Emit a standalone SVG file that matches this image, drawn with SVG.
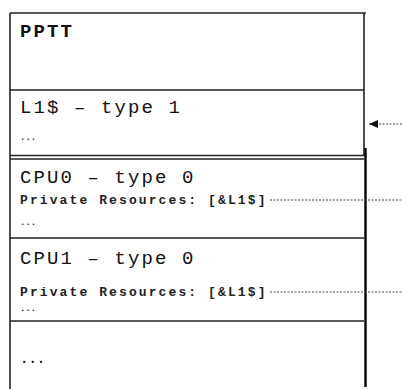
<svg xmlns="http://www.w3.org/2000/svg" width="402" height="389" viewBox="0 0 402 389">
<style>
.frame{stroke:#222;stroke-width:1.6;fill:none}
.title{font-family:"Liberation Mono",monospace;font-size:19px;letter-spacing:2.1px;fill:#111}
.bold{font-weight:bold}
.res{font-family:"Liberation Mono",monospace;font-size:13px;font-weight:bold;letter-spacing:2.1px;fill:#222}
.dots{font-family:"Liberation Mono",monospace;font-size:9px;font-weight:bold;fill:#222}
.bigdots{font-family:"Liberation Mono",monospace;font-size:14px;font-weight:bold;fill:#222}
.dotted{stroke:#444;stroke-width:1;stroke-dasharray:2 1.5;fill:none}
</style>
<defs>
<marker id="ah" markerUnits="userSpaceOnUse" markerWidth="9" markerHeight="8" refX="9" refY="4" orient="auto">
<path d="M0,0 L9,4 L0,8 z" fill="#111"/>
</marker>
</defs>
<rect width="402" height="389" fill="#fff"/>
<g id="frame">
<line class="frame" x1="10" y1="13" x2="366" y2="13" stroke="#333"/>
<line class="frame" x1="10" y1="13" x2="10" y2="389"/>
<line class="frame" x1="364" y1="13" x2="364" y2="156"/>
<line x1="365.5" y1="148" x2="365.5" y2="387" stroke="#000" stroke-width="2.4"/>
</g>
<g id="pptt">
<text class="title bold" x="20" y="37">PPTT</text>
<line class="frame" x1="10" y1="90" x2="364" y2="90"/>
</g>
<g id="l1">
<text class="title" x="20" y="113">L1$ – type 1</text>
<text class="dots" x="20" y="140">...</text>
<line class="frame" x1="10" y1="155.5" x2="364" y2="155.5"/>
</g>
<g id="cpu0">
<line class="frame" x1="10" y1="159" x2="364" y2="159"/>
<text class="title" x="20" y="183">CPU0 – type 0</text>
<text class="res" x="20" y="204">Private Resources: [&amp;L1$]</text>
<text class="dots" x="20" y="225">...</text>
<line class="frame" x1="10" y1="238" x2="364" y2="238"/>
</g>
<g id="cpu1">
<text class="title" x="20" y="264">CPU1 – type 0</text>
<text class="res" x="20" y="296">Private Resources: [&amp;L1$]</text>
<text class="dots" x="20" y="311">...</text>
<line class="frame" x1="10" y1="321" x2="364" y2="321"/>
</g>
<g id="more">
<text class="bigdots" x="20" y="363">...</text>
</g>
<g id="connectors">
<line class="dotted" x1="402" y1="124" x2="369" y2="124" marker-end="url(#ah)"/>
<line class="dotted" x1="270" y1="200" x2="402" y2="200"/>
<line class="dotted" x1="270" y1="292" x2="402" y2="292"/>
</g>
</svg>
